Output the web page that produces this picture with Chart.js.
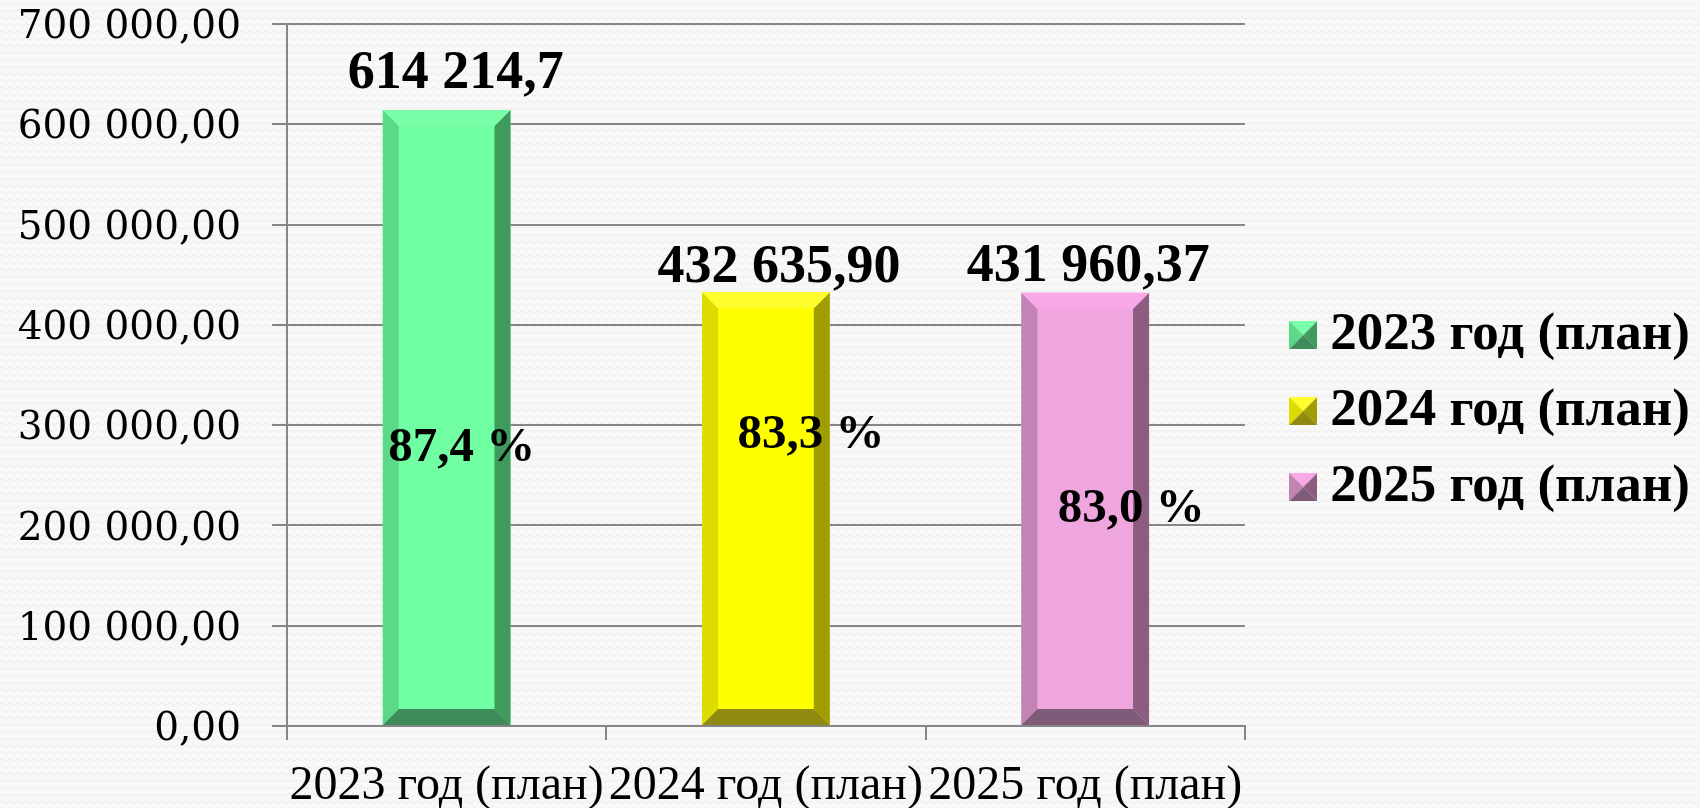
<!DOCTYPE html>
<html lang="ru">
<head>
<meta charset="UTF-8">
<title>План 2023–2025</title>
<script src="https://cdn.jsdelivr.net/npm/chart.js"></script>
<style>
    html, body { margin: 0; padding: 0; }
    body {
        background-color: #f8f8f8;
        background-image: url("data:image/svg+xml,%3Csvg xmlns='http://www.w3.org/2000/svg' width='8' height='7'%3E%3Cpath d='M0 4 Q2 1.5 4 4 T8 4' fill='none' stroke='%23ebebeb' stroke-width='1'/%3E%3C/svg%3E");
    }
    #wrap { width: 1700px; height: 808px; }
</style>
</head>
<body>
<div id="wrap"><canvas id="planChart" width="1700" height="808"></canvas></div>
<script>
    // chart data
    const categories = ['2023 год (план)', '2024 год (план)', '2025 год (план)'];
    const values = [614214.7, 432635.90, 431960.37];
    const valueLabels = ['614 214,7', '432 635,90', '431 960,37'];
    const percentLabels = ['87,4 %', '83,3 %', '83,0 %'];
    const yMax = 700000;
    const yStep = 100000;

    // bevel colours per bar: face, top, left, right, bottom
    const palette = [
        { face: '#70ffa2', top: '#78ffa8', left: '#5bd986', right: '#3f9a5e', bottom: '#3f8c5a' },
        { face: '#ffff00', top: '#ffff30', left: '#dddb00', right: '#a09d00', bottom: '#8f8b10' },
        { face: '#efa5dd', top: '#f9a8e8', left: '#c283b5', right: '#8b5d81', bottom: '#805b79' }
    ];

    // where the labels sit, relative to each bar
    const labelLayout = [
        { gap: 22, dx: 9,  pctAt: 0.45, pctDx: 15 },
        { gap: 10, dx: 13, pctAt: 0.67, pctDx: 45 },
        { gap: 12, dx: 3,  pctAt: 0.50, pctDx: 46 }
    ];

    const BEVEL = 16;

    function formatTick(v) {
        const s = Math.round(v).toString().replace(/\B(?=(\d{3})+(?!\d))/g, ' ');
        return s + ',00';
    }

    // small pyramid icon used as legend marker
    function legendIcon(c) {
        const cv = document.createElement('canvas');
        cv.width = 28; cv.height = 28;
        const g = cv.getContext('2d');
        const tri = (pts, col) => {
            g.beginPath();
            g.moveTo(pts[0][0], pts[0][1]);
            pts.slice(1).forEach(p => g.lineTo(p[0], p[1]));
            g.closePath();
            g.fillStyle = col;
            g.fill();
        };
        tri([[0, 0], [28, 0], [14, 14]], c.top);
        tri([[0, 0], [14, 14], [0, 28]], c.left);
        tri([[28, 0], [28, 28], [14, 14]], c.right);
        tri([[0, 28], [14, 14], [28, 28]], c.bottom);
        return cv;
    }
    const icons = palette.map(legendIcon);

    function poly(ctx, pts, col) {
        ctx.beginPath();
        ctx.moveTo(pts[0][0], pts[0][1]);
        for (let i = 1; i < pts.length; i++) ctx.lineTo(pts[i][0], pts[i][1]);
        ctx.closePath();
        ctx.fillStyle = col;
        ctx.fill();
    }

    const bevelPlugin = {
        id: 'bevelBars',
        afterDatasetsDraw(chart) {
            const ctx = chart.ctx;
            chart.data.datasets.forEach((ds, di) => {
                const meta = chart.getDatasetMeta(di);
                meta.data.forEach((bar, i) => {
                    if (ds.data[i] == null) return;
                    const p = bar.getProps(['x', 'y', 'base', 'width'], true);
                    const L = p.x - p.width / 2, R = p.x + p.width / 2;
                    const T = p.y, B = p.base, b = BEVEL;
                    const c = palette[di];
                    ctx.save();
                    poly(ctx, [[L, T], [L + b, T + b], [L + b, B - b], [L, B]], c.left);
                    poly(ctx, [[R, T], [R - b, T + b], [R - b, B - b], [R, B]], c.right);
                    poly(ctx, [[L, T], [R, T], [R - b, T + b], [L + b, T + b]], c.top);
                    poly(ctx, [[L, B], [R, B], [R - b, B - b], [L + b, B - b]], c.bottom);

                    const lay = labelLayout[di];
                    ctx.fillStyle = '#000';
                    ctx.textAlign = 'center';
                    ctx.textBaseline = 'alphabetic';
                    ctx.font = 'bold 54px "Liberation Serif"';
                    ctx.fillText(valueLabels[di], p.x + lay.dx, T - lay.gap);

                    ctx.textBaseline = 'middle';
                    ctx.font = 'bold 49px "Liberation Serif"';
                    ctx.fillText(percentLabels[di], p.x + lay.pctDx, B + (T - B) * lay.pctAt);
                    ctx.restore();
                });
            });
        }
    };

    const datasets = categories.map((name, i) => ({
        label: name,
        data: values.map((v, j) => (j === i ? v : null)),
        backgroundColor: palette[i].face,
        borderWidth: 0,
        grouped: false,
        barPercentage: 0.4,
        categoryPercentage: 1
    }));

    const ctx = document.getElementById('planChart').getContext('2d');
    new Chart(ctx, {
        type: 'bar',
        data: { labels: categories, datasets: datasets },
        plugins: [bevelPlugin],
        options: {
            responsive: false,
            animation: false,
            layout: { padding: { top: 14, right: 0, left: 0, bottom: 0 } },
            plugins: {
                tooltip: { enabled: false },
                legend: {
                    position: 'right',
                    labels: {
                        usePointStyle: true,
                        boxWidth: 1,
                        boxHeight: 28,
                        padding: 23,
                        color: '#000',
                        font: { family: '"Liberation Serif"', size: 53, weight: 'bold' },
                        generateLabels(chart) {
                            return chart.data.datasets.map((ds, i) => ({
                                text: ds.label,
                                pointStyle: icons[i],
                                fillStyle: palette[i].face,
                                strokeStyle: 'transparent',
                                lineWidth: 0,
                                hidden: false,
                                datasetIndex: i,
                                fontColor: '#000'
                            }));
                        }
                    }
                }
            },
            scales: {
                x: {
                    offset: true,
                    grid: {
                        display: true,
                        drawOnChartArea: false,
                        offset: true,
                        color: '#868686',
                        lineWidth: 2,
                        tickLength: 14
                    },
                    border: { display: true, color: '#868686', width: 2 },
                    ticks: {
                        color: '#000',
                        padding: 18,
                        maxRotation: 0,
                        autoSkip: false,
                        font: { family: '"Liberation Serif"', size: 48 }
                    },
                    afterFit(scale) { scale.height = 82; }
                },
                y: {
                    min: 0,
                    max: yMax,
                    grid: {
                        color: '#868686',
                        lineWidth: 2,
                        tickLength: 15
                    },
                    border: { display: true, color: '#868686', width: 2 },
                    ticks: {
                        stepSize: yStep,
                        color: '#000',
                        padding: 31,
                        labelOffset: 4,
                        font: { family: '"DejaVu Serif"', size: 39 },
                        callback: v => formatTick(v)
                    },
                    afterFit(scale) {
                        scale.width = 287;
                        scale.paddingTop = 24;
                        scale.paddingBottom = 24;
                    }
                },
                // empty spacer between plot and legend
                gap: {
                    position: 'right',
                    display: false,
                    afterFit(scale) { scale.width = 35; }
                }
            }
        }
    });
</script>
</body>
</html>
